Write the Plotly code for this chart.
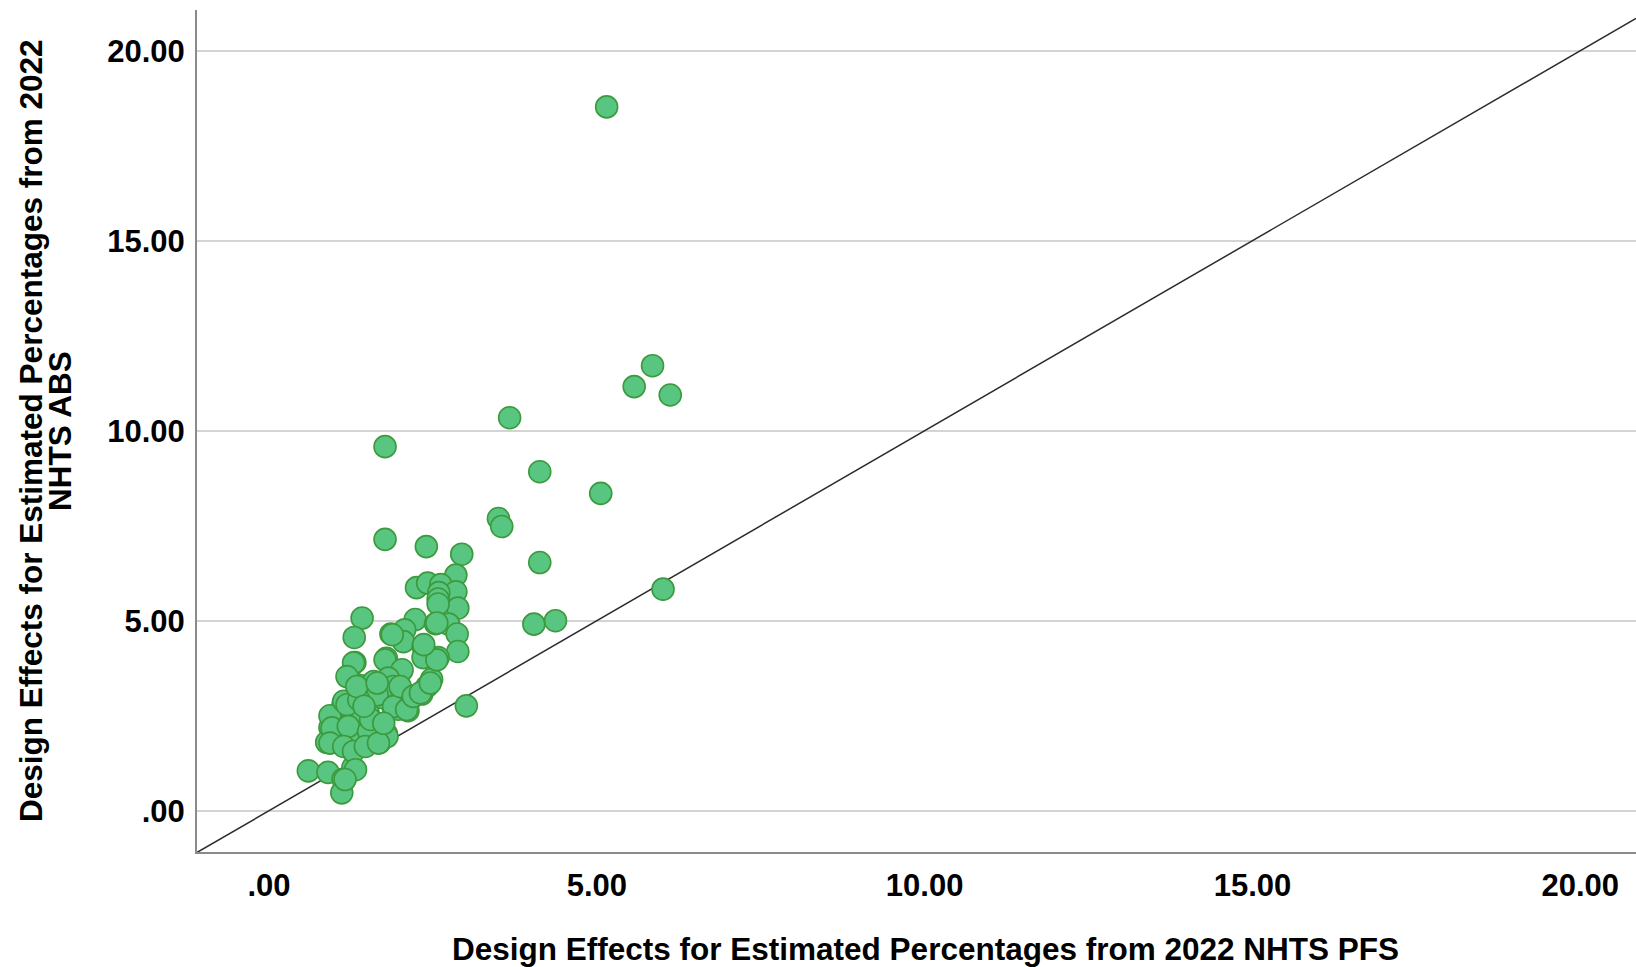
import plotly.graph_objects as go

# Design effects per estimated percentage: PFS (x) vs ABS (y)
deff_pfs = [
    5.15, 5.85, 5.57, 6.12, 3.67, 1.77, 4.13, 5.06, 3.50, 3.55,
    1.77, 2.40, 2.94, 4.13, 6.01, 4.04, 4.37, 3.01,
    2.85, 2.25, 2.42, 2.62, 2.85, 2.59, 2.58, 2.88, 2.58, 1.42,
    2.23, 1.30, 2.54, 2.74, 2.87, 1.86, 2.07, 2.05, 2.35, 2.88,
    2.58, 2.35, 1.79, 1.31, 2.02, 2.48, 1.22, 1.59, 1.41, 1.99,
    2.33, 1.59, 1.89, 2.12, 1.38, 1.13, 1.21, 1.51, 1.72, 1.89,
    1.36, 0.93, 1.18, 1.49, 1.79, 0.88, 1.11, 1.26, 1.69, 1.97,
    0.60, 0.90, 1.28, 1.13, 1.11, 0.93, 0.98, 1.38,
    2.56, 1.88, 2.56, 2.36, 1.77, 1.29, 2.03, 1.19, 1.60, 1.82,
    1.90, 2.03, 1.65, 1.14, 2.15, 1.90, 2.10, 1.19, 1.37, 0.96,
    1.21, 1.52, 1.80, 0.93, 1.14, 1.29, 1.47, 1.67, 1.32, 1.16,
    1.34, 1.65, 2.00, 2.20, 2.41, 2.31, 2.46, 1.55, 1.75, 1.45,
]
deff_abs = [
    18.52, 11.71, 11.16, 10.94, 10.34, 9.58, 8.92, 8.35, 7.69, 7.48,
    7.14, 6.95, 6.75, 6.53, 5.83, 4.91, 5.00, 2.76,
    6.20, 5.87, 5.99, 5.95, 5.76, 5.74, 5.57, 5.33, 5.44, 5.07,
    5.03, 4.56, 4.92, 4.91, 4.65, 4.65, 4.76, 4.45, 4.32, 4.19,
    4.03, 4.03, 4.01, 3.90, 3.68, 3.46, 3.55, 3.38, 3.29, 3.18,
    3.07, 2.98, 2.74, 2.63, 3.11, 2.81, 2.63, 2.59, 2.98, 3.29,
    2.50, 2.19, 2.24, 2.12, 2.02, 1.80, 1.89, 1.62, 1.80, 2.67,
    1.05, 1.01, 1.14, 0.83, 0.47, 2.50, 2.02, 1.89,
    4.94, 4.63, 3.97, 4.37, 3.97, 3.89, 3.71, 3.53, 3.40, 3.49,
    3.27, 3.14, 3.05, 2.88, 2.92, 2.74, 2.66, 2.79, 2.92, 2.18,
    2.22, 2.09, 1.95, 1.78, 1.69, 1.56, 1.69, 1.78, 1.08, 0.82,
    3.27, 3.36, 3.27, 3.01, 3.27, 3.10, 3.36, 2.40, 2.30, 2.75,
]

tick_vals = [0, 5, 10, 15, 20]
tick_text = [".00", "5.00", "10.00", "15.00", "20.00"]
x_range = [-1.098, 20.85]
y_range = [-1.086, 21.07]

x_title = "Design Effects for Estimated Percentages from 2022 NHTS PFS"
y_title_lines = ["Design Effects for Estimated Percentages from 2022", "NHTS ABS"]

FONT = "Liberation Sans, Arial, sans-serif"
TITLE_FONT = dict(size=31.5, family=FONT, weight="bold")
TICK_FONT = dict(size=31, family=FONT, weight="bold")

fig = go.Figure()

# Identity reference line y = x across the visible range
fig.add_trace(go.Scatter(
    x=x_range, y=x_range, mode="lines",
    line=dict(color="#2b2b2b", width=1.5),
    hoverinfo="skip", showlegend=False,
))

fig.add_trace(go.Scatter(
    x=deff_pfs, y=deff_abs, mode="markers",
    marker=dict(size=22, color="#58C580",
                line=dict(color="#3C9A3C", width=1.6)),
    showlegend=False,
))

fig.update_layout(
    width=1636, height=967,
    margin=dict(l=197, r=0, t=10, b=115),
    paper_bgcolor="white", plot_bgcolor="white",
    font=dict(family=FONT, color="black"),
    xaxis=dict(
        range=x_range, tickvals=tick_vals, ticktext=tick_text,
        showgrid=False, zeroline=False,
        showline=True, linecolor="#8a8a8a", linewidth=2,
        ticks="", tickfont=TICK_FONT,
        ticklabelstandoff=5,
    ),
    yaxis=dict(
        range=y_range, tickvals=tick_vals, ticktext=tick_text,
        showgrid=True, gridcolor="#d4d4d4", gridwidth=2,
        zeroline=False,
        showline=True, linecolor="#8a8a8a", linewidth=2,
        ticks="", tickfont=TICK_FONT,
        ticklabelstandoff=4,
    ),
    annotations=[
        dict(text=x_title, xref="paper", yref="paper",
             x=0.5066, y=0, yshift=-97, xanchor="center", yanchor="middle",
             showarrow=False, font=TITLE_FONT),
        dict(text=y_title_lines[0], xref="paper", yref="paper",
             x=0, y=0.5, xshift=-166, textangle=-90,
             xanchor="center", yanchor="middle",
             showarrow=False, font=TITLE_FONT),
        dict(text=y_title_lines[1], xref="paper", yref="paper",
             x=0, y=0.5, xshift=-137, textangle=-90,
             xanchor="center", yanchor="middle",
             showarrow=False, font=TITLE_FONT),
    ],
)

fig.write_html("out.html")
